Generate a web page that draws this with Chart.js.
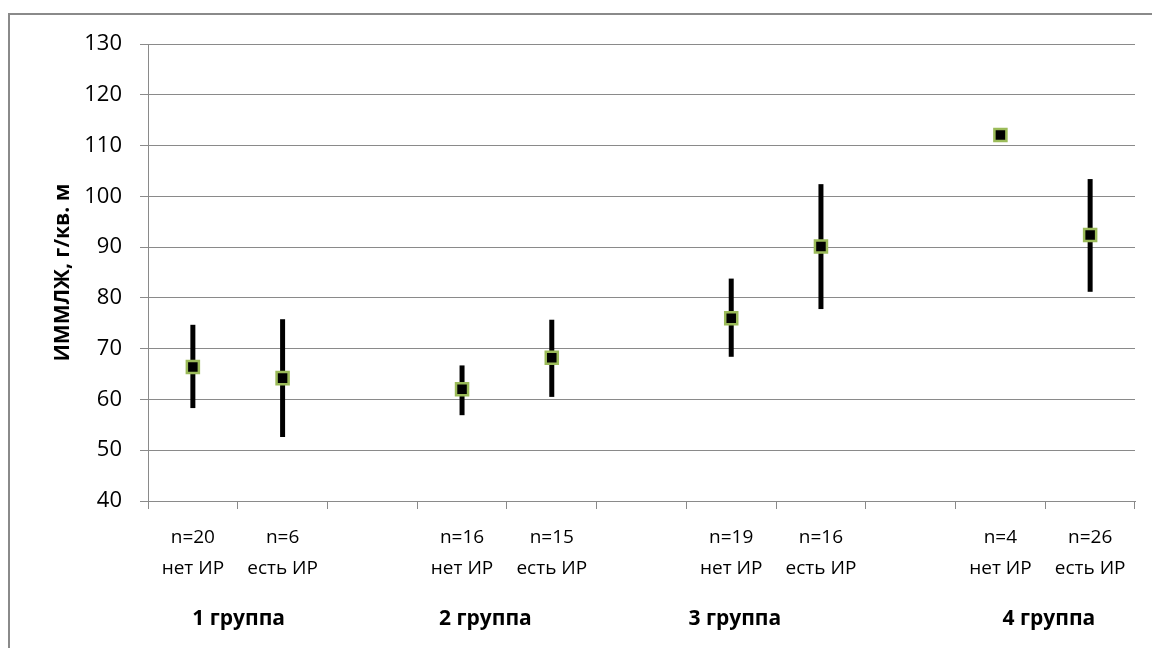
<!DOCTYPE html>
<html>
<head>
<meta charset="utf-8">
<script src="https://cdn.jsdelivr.net/npm/chart.js@4"></script>
<style>
  html, body { margin: 0; padding: 0; background: #fff; }
  #wrap { position: relative; width: 1152px; height: 648px; overflow: hidden; }
  #frame { position: absolute; left: 8px; top: 13px; width: 1200px; height: 700px; border: 2px solid #8a8a8a; box-sizing: border-box; }
  canvas { position: absolute; left: 0; top: 0; }
</style>
</head>
<body>
<div id="wrap">
  <div id="frame"></div>
  <canvas id="mijnGrafiek" width="1152" height="648"></canvas>
</div>
<script>
// categorieen (lege plekken tussen de groepen)
const categories = [
    ['n=20', 'нет ИР'], ['n=6', 'есть ИР'], '',
    ['n=16', 'нет ИР'], ['n=15', 'есть ИР'], '',
    ['n=19', 'нет ИР'], ['n=16', 'есть ИР'], '',
    ['n=4', 'нет ИР'], ['n=26', 'есть ИР']
];
const means = [66.4, 64.2, null, 62.0, 68.2, null, 76.0, 90.1, null, 112.1, 92.4];
const lows  = [58.3, 52.6, null, 56.9, 60.5, null, 68.4, 77.8, null, null, 81.2];
const highs = [74.7, 75.8, null, 66.7, 75.7, null, 83.8, 102.4, null, null, 103.4];
const groupLabels = ['1 группа', '2 группа', '3 группа', '4 группа'];
const groupAt = [0.51, 3.26, 6.04, 9.54]; // positie in categorie-index
const yTicks = [40, 50, 60, 70, 80, 90, 100, 110, 120, 130];

const font = "'Open Sans', 'Noto Sans', sans-serif";

const errorBars = {
    id: 'errorBars',
    beforeDatasetsDraw(chart) {
        const { ctx, scales: { x, y } } = chart;
        ctx.save();
        ctx.strokeStyle = '#000';
        ctx.lineWidth = 5;
        ctx.lineCap = 'butt';
        lows.forEach((lo, i) => {
            if (lo === null || highs[i] === null) return;
            const px = x.getPixelForValue(i);
            ctx.beginPath();
            ctx.moveTo(px, y.getPixelForValue(lo));
            ctx.lineTo(px, y.getPixelForValue(highs[i]));
            ctx.stroke();
        });
        ctx.restore();
    }
};

const groups = {
    id: 'groups',
    afterDraw(chart) {
        const { ctx, scales: { x } } = chart;
        ctx.save();
        ctx.font = 'bold 21px ' + font;
        ctx.fillStyle = '#000';
        ctx.textAlign = 'center';
        ctx.textBaseline = 'middle';
        groupLabels.forEach((t, i) => {
            ctx.fillText(t, x.getPixelForValue(groupAt[i]), x.bottom - 29);
        });
        ctx.restore();
    }
};

const ctx = document.getElementById('mijnGrafiek').getContext('2d');
new Chart(ctx, {
    type: 'line',
    data: {
        labels: categories,
        datasets: [{
            data: means,
            showLine: false,
            pointStyle: 'rect',
            pointRadius: 8.5,
            pointHoverRadius: 8.5,
            pointBackgroundColor: '#000',
            pointBorderColor: '#9bbb59',
            pointBorderWidth: 2.5
        }]
    },
    options: {
        responsive: false,
        animation: false,
        events: [],
        layout: { padding: { left: 0, right: 17, top: 44, bottom: 0 } },
        plugins: { legend: { display: false }, tooltip: { enabled: false } },
        scales: {
            x: {
                offset: true,
                afterFit: s => { s.height = 147; },
                grid: {
                    offset: true,
                    drawOnChartArea: false,
                    drawTicks: true,
                    tickLength: 8,
                    color: '#8a8a8a'
                },
                border: { color: '#8a8a8a', width: 1 },
                ticks: {
                    autoSkip: false,
                    maxRotation: 0,
                    padding: 13,
                    color: '#000',
                    font: { family: font, size: 19, lineHeight: 1.63 }
                }
            },
            y: {
                min: 40,
                max: 130,
                afterFit: s => { s.width = 148; },
                afterBuildTicks: s => { s.ticks = yTicks.map(v => ({ value: v })); },
                grid: { color: '#8a8a8a', tickLength: 8 },
                border: { color: '#8a8a8a', width: 1 },
                ticks: {
                    padding: 18,
                    color: '#000',
                    font: { family: font, size: 22 }
                },
                title: {
                    display: true,
                    text: 'ИММЛЖ, г/кв. м',
                    color: '#000',
                    padding: { top: 50, bottom: 0 },
                    font: { family: font, size: 21, weight: 'bold' }
                }
            }
        }
    },
    plugins: [errorBars, groups]
});
</script>
</body>
</html>
